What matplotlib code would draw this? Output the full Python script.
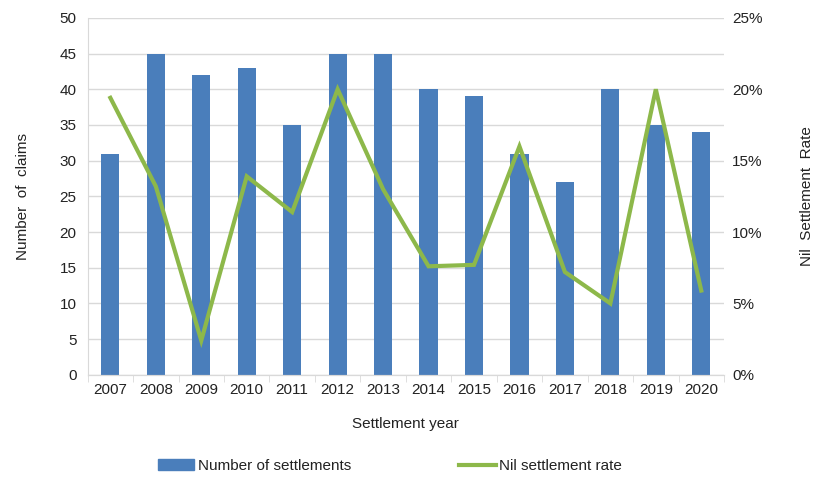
import matplotlib.pyplot as plt
import matplotlib.ticker as mticker
from matplotlib.lines import Line2D
from matplotlib.patches import Patch
import numpy as np

years = ["2007", "2008", "2009", "2010", "2011", "2012", "2013",
         "2014", "2015", "2016", "2017", "2018", "2019", "2020"]
settlements = [31, 45, 42, 43, 35, 45, 45, 40, 39, 31, 27, 40, 35, 34]
nil_rate = [19.4, 13.2, 2.4, 13.9, 11.4, 20.0, 13.0, 7.6, 7.7, 16.0, 7.2, 5.0, 20.0, 5.9]

plt.rcParams['font.family'] = ['Liberation Sans', 'DejaVu Sans']
bar_color = "#4A7EBB"
line_color = "#8DB84A"
grid_color = "#D9D9D9"
text_color = "#222222"

fig = plt.figure(figsize=(8.19, 4.83), dpi=100)
ax = fig.add_axes([0.107, 0.224, 0.777, 0.739])
ax2 = ax.twinx()

x = np.arange(len(years))
ax.bar(x, settlements, width=0.4, color=bar_color, zorder=2)
ax2.plot(x, nil_rate, color=line_color, lw=3, zorder=3, solid_joinstyle='miter')

ax.set_xlim(-0.5, len(years) - 0.5)
ax.set_ylim(0, 50)
ax.set_yticks(range(0, 51, 5))
ax2.set_ylim(0, 25)
ax2.set_yticks(range(0, 26, 5))
ax2.yaxis.set_major_formatter(mticker.FuncFormatter(lambda v, p: f"{v:.0f}%"))

ax.yaxis.grid(True, color=grid_color, lw=1, zorder=0)
ax.set_axisbelow(True)
ax.set_xticks(x)
ax.set_xticklabels(years)
ax.set_xticks(np.arange(-0.5, len(years)), minor=True)
ax.tick_params(axis='x', which='major', length=0, pad=6, labelsize=11, colors=text_color)
ax.tick_params(axis='x', which='minor', length=5, color=grid_color)
ax.tick_params(axis='y', length=0, pad=8, labelsize=11, colors=text_color)
ax2.tick_params(axis='y', length=0, pad=6, labelsize=11, colors=text_color)

for a in (ax, ax2):
    for s in ('top', 'right', 'left'):
        a.spines[s].set_visible(False)
    a.spines['bottom'].set_color(grid_color)
ax.spines['left'].set_visible(True)
ax.spines['left'].set_color(grid_color)

ax.set_ylabel("Number  of  claims", fontsize=11, color=text_color, labelpad=21)
ax2.set_ylabel("Nil  Settlement  Rate", fontsize=11, color=text_color, labelpad=27)
ax.set_xlabel("Settlement year", fontsize=11, color=text_color, labelpad=14)

handles = [Patch(color=bar_color), Line2D([], [], color=line_color, lw=3)]
fig.legend(handles, ["Number of settlements", "Nil settlement rate"],
           loc='center', bbox_to_anchor=(0.476, 0.035), ncol=2, frameon=False,
           fontsize=11, columnspacing=7.1, handlelength=2.4, handletextpad=0.2,
           labelcolor=text_color)

fig.savefig("out.png", dpi=100)
